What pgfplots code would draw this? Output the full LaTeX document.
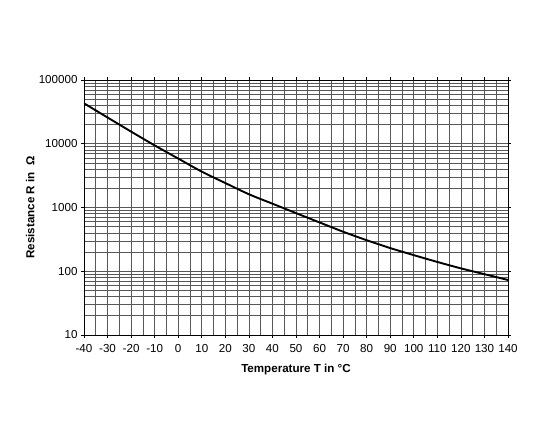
\documentclass[border=0pt]{standalone}
\usepackage{pgfplots}
\pgfplotsset{compat=1.18}
\usepackage{fontspec}
\setmainfont{Liberation Sans}
\begin{document}
\begin{tikzpicture}[x=1pt,y=1pt]
\path[use as bounding box] (0,0) rectangle (550,440);
\begin{axis}[
  at={(84pt,105pt)}, anchor=south west,
  scale only axis, width=424pt, height=255pt,
  ymode=log,
  xmin=-40, xmax=140, ymin=10, ymax=100000,
  xtick={-40,-30,...,140},
  minor x tick num=1,
  ytick={10,100,1000,10000,100000},
  log ticks with fixed point,
  /pgf/number format/1000 sep={},
  /pgf/number format/assume math mode=true,
  grid=both,
  major grid style={black!66, line width=0.65pt},
  minor grid style={black!66, line width=0.65pt},
  axis line style={black, line width=0.8pt},
  tick align=outside,
  major tick length=3pt,
  minor tick length=0pt,
  tick style={black, line width=0.6pt},
  ticklabel style={font=\fontsize{11.6}{13}\selectfont},
  xticklabel style={yshift=-3pt},
  xlabel={\bfseries Temperature T in °C},
  ylabel={\bfseries Resistance R in\ \ Ω},
  label style={font=\fontsize{11.6}{13}\selectfont},
  xlabel style={at={(axis description cs:0.5,-0.137)}, anchor=center},
  ylabel style={at={(axis description cs:-0.127,0.5)}, anchor=center},
]
\addplot[black, line width=1.9pt, smooth] coordinates {
(-40,43100) (-30,25800) (-20,15500) (-10,9420) (0,5860) (10,3650)
(20,2420) (30,1615) (40,1148) (50,817) (60,583) (70,417)
(80,307) (90,231) (100,179) (110,140) (120,111) (130,90) (140,73)
};
\end{axis}
\end{tikzpicture}
\end{document}
